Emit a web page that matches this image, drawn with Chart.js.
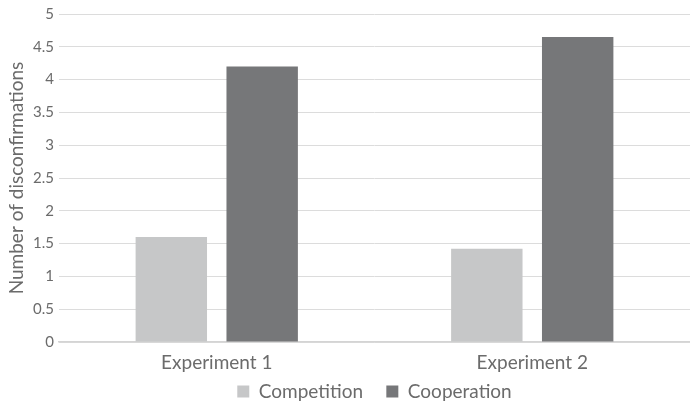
<!DOCTYPE html>
<html>
<head>
<meta charset="utf-8">
<script src="https://cdn.jsdelivr.net/npm/chart.js@4/dist/chart.umd.min.js"></script>
<style>
  html, body { margin: 0; padding: 0; background: #ffffff; }
  #wrap { width: 690px; height: 404px; position: relative; }
</style>
</head>
<body>
<div id="wrap"><canvas id="chart"></canvas></div>
<script>
// Mean number of disconfirmations per condition
const categories = ['Experiment 1', 'Experiment 2'];
const competition = [1.6, 1.42];
const cooperation = [4.2, 4.65];
const yTickLabels = ['0', '0.5', '1', '1.5', '2', '2.5', '3', '3.5', '4', '4.5', '5'];
const yMin = 0, yMax = 5, yStep = 0.5;
const yTitle = 'Number of disconfirmations';

const textColor = '#6b6b6b';
const fontFamily = 'Lato, "Open Sans", sans-serif';

new Chart(document.getElementById('chart'), {
  type: 'bar',
  data: {
    labels: categories,
    datasets: [
      { label: 'Competition', data: competition, backgroundColor: '#c6c7c8',
        categoryPercentage: 0.576, barPercentage: 0.786 },
      { label: 'Cooperation', data: cooperation, backgroundColor: '#767779',
        categoryPercentage: 0.576, barPercentage: 0.786 }
    ]
  },
  options: {
    responsive: true,
    maintainAspectRatio: false,
    animation: false,
    layout: { padding: { top: 2, left: 0, right: 0, bottom: -7 } },
    plugins: {
      legend: {
        position: 'bottom',
        fullSize: false,
        labels: {
          color: textColor,
          font: { family: fontFamily, size: 19 },
          boxWidth: 12,
          boxHeight: 12,
          padding: 9,
          // widen the space after every entry except the last one
          generateLabels: (chart) => {
            const items = Chart.defaults.plugins.legend.labels.generateLabels(chart);
            items.forEach((it, i) => {
              it.lineWidth = 0;
              if (i < items.length - 1) it.text = it.text + '\u2003';
            });
            return items;
          }
        }
      },
      tooltip: { enabled: false }
    },
    scales: {
      x: {
        grid: { display: false, drawTicks: false },
        border: { color: '#d4d4d4', width: 1.5 },
        ticks: { color: textColor, font: { family: fontFamily, size: 19 }, padding: 9 },
        afterFit: (s) => { s.height = 31; }
      },
      y: {
        min: yMin,
        max: yMax,
        grid: { color: '#dcdcdc', lineWidth: 1, drawTicks: false },
        border: { display: false },
        ticks: {
          stepSize: yStep,
          color: textColor,
          font: { family: fontFamily, size: 15 },
          padding: 5,
          callback: (value, index) => yTickLabels[index]
        },
        title: {
          display: true,
          text: yTitle,
          color: textColor,
          font: { family: fontFamily, size: 19 },
          padding: { top: 5, bottom: 0 }
        },
        afterFit: (s) => { s.width = 59; }
      }
    }
  }
});
</script>
</body>
</html>
